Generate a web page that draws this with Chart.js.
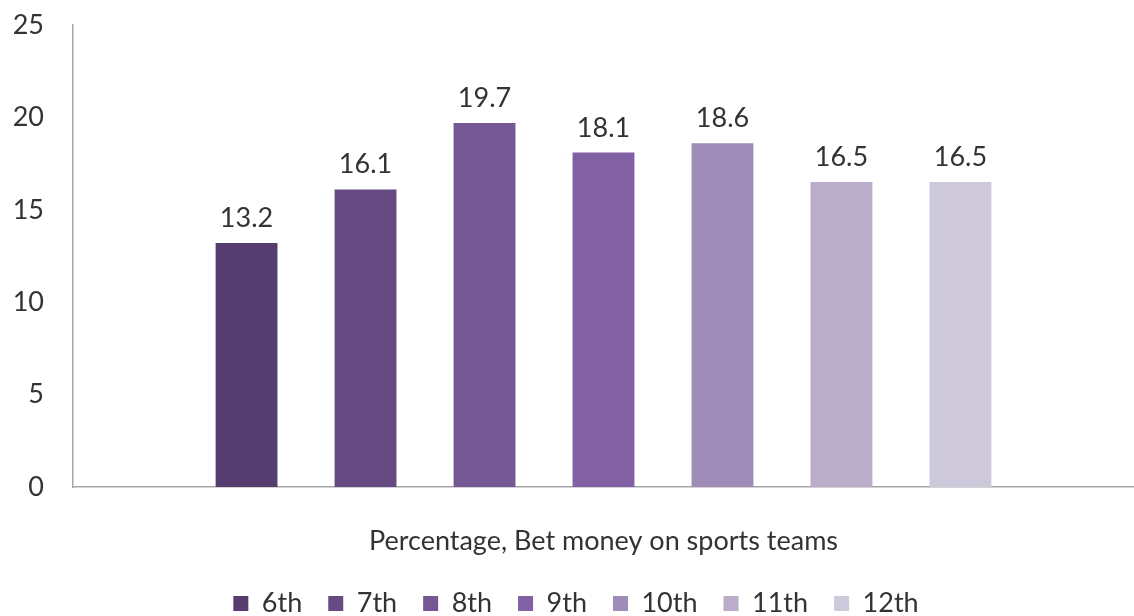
<!DOCTYPE html>
<html>
<head>
<meta charset="utf-8">
<title>Bet money on sports teams</title>
<script src="https://cdn.jsdelivr.net/npm/chart.js@4/dist/chart.umd.min.js"></script>
<style>
  html, body { margin: 0; padding: 0; background: #fff; }
  #wrap { width: 1134px; height: 616px; }
</style>
</head>
<body>
<div id="wrap"><canvas id="betChart" width="1134" height="616"></canvas></div>
<script>
// grades and their percentages
const categories = ['Percentage, Bet money on sports teams'];
const grades = ['6th', '7th', '8th', '9th', '10th', '11th', '12th'];
const percentages = [13.2, 16.1, 19.7, 18.1, 18.6, 16.5, 16.5];
const gradeColors = ['#553e6f', '#654b82', '#745894', '#8160a3', '#9e8bb7', '#b9adc9', '#cdc9da'];
const yTicks = [0, 5, 10, 15, 20, 25];

const FONT = 'Lato, "Open Sans", sans-serif';
const SIZE = 27;
const TEXT = '#333333';

// value printed above every bar
const barLabels = {
    id: 'barLabels',
    afterDatasetsDraw(chart) {
        const ctx = chart.ctx;
        ctx.save();
        ctx.font = SIZE + 'px ' + FONT;
        ctx.fillStyle = TEXT;
        ctx.textAlign = 'center';
        ctx.textBaseline = 'alphabetic';
        chart.data.datasets.forEach((ds, i) => {
            chart.getDatasetMeta(i).data.forEach((bar, j) => {
                ctx.fillText(ds.data[j].toFixed(1), bar.x, bar.y - 16);
            });
        });
        ctx.restore();
    }
};

// nudge the legend so it sits centred under the plot area
const legendShift = {
    id: 'legendShift',
    afterLayout(chart) {
        if (chart.legend) {
            chart.legend.left += 9;
            chart.legend.right += 9;
        }
    }
};

const datasets = grades.map((g, i) => ({
    label: g,
    data: [percentages[i]],
    backgroundColor: gradeColors[i],
    categoryPercentage: 0.785,
    barPercentage: 0.52
}));

new Chart(document.getElementById('betChart'), {
    type: 'bar',
    data: { labels: categories, datasets: datasets },
    plugins: [barLabels, legendShift],
    options: {
        responsive: false,
        animation: false,
        layout: { padding: { top: 25, right: 0, bottom: -11, left: 0 } },
        plugins: {
            tooltip: { enabled: false },
            legend: {
                position: 'bottom',
                labels: {
                    font: { family: FONT, size: SIZE },
                    color: TEXT,
                    boxWidth: 15,
                    boxHeight: 15,
                    padding: 26
                }
            }
        },
        scales: {
            x: {
                afterFit(scale) { scale.height = 77; },
                grid: { display: false },
                border: { display: true, color: '#a6a6a6', width: 1.5 },
                ticks: {
                    font: { family: FONT, size: SIZE },
                    color: TEXT,
                    padding: 30
                }
            },
            y: {
                min: 0,
                max: 25,
                afterBuildTicks(axis) {
                    axis.ticks = yTicks.map(v => ({ value: v }));
                },
                afterFit(scale) {
                    scale.width = 73;
                    scale.paddingTop = 0;
                    scale.paddingBottom = 0;
                },
                grid: { display: false },
                border: { display: true, color: '#a6a6a6', width: 1.5 },
                ticks: {
                    font: { family: FONT, size: SIZE },
                    color: TEXT,
                    padding: 21
                }
            }
        }
    }
});
</script>
</body>
</html>
